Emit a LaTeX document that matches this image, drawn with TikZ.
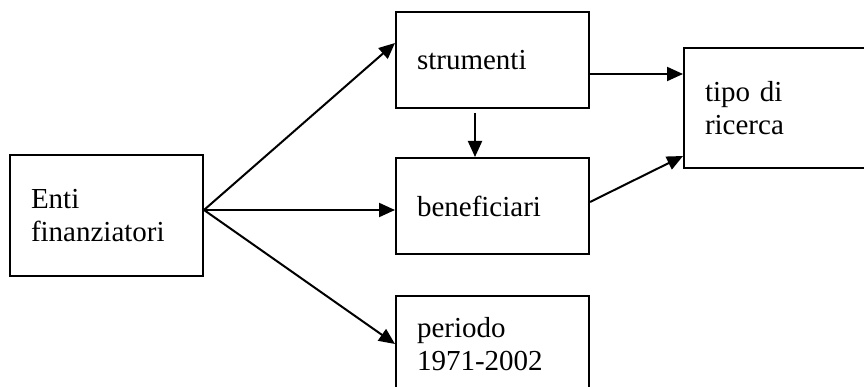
\documentclass[tikz,border=0pt]{standalone}
\usepackage{fontspec}
\setmainfont[Ligatures=CommonOff]{Liberation Serif}
\usetikzlibrary{arrows.meta,calc}

\begin{document}
\begin{tikzpicture}[x=1pt,y=-1pt,
    box/.style={draw, line width=2pt, minimum width=193pt, inner xsep=21pt, text width=151pt, align=left, font=\fontsize{29}{33.5}\selectfont},
    arr/.style={line width=2pt, -{Triangle[length=16pt,width=14pt]}}]
            % Enti e flussi
            \useasboundingbox (0,0) rectangle (864,387);
            \clip (0,0) rectangle (864,387);

            \node[box, minimum height=121pt] at (106.5,215.5) (enti) {Enti\\finanziatori};
            \node[box, minimum height=96pt] at (492.5,60) (strumenti) {strumenti};
            \node[box, minimum height=96pt] at (492.5,206) (beneficiari) {beneficiari};
            \node[box, minimum height=96pt] at (492.5,344) (periodo) {periodo\\1971-2002};
            \node[box, minimum height=120pt] at (780.5,108) (tipo) {tipo di\\ricerca};

            \coordinate (fork) at ([yshift=5.5pt]enti.east);

            \draw[arr] (fork) -- ([yshift=17pt]strumenti.west);
            \draw[arr] (fork) -- ([yshift=-4pt]beneficiari.west);
            \draw[arr] (fork) -- (periodo.west);

            \draw[arr] ([xshift=-17.5pt,yshift=-4pt]strumenti.south) -- ([xshift=-17.5pt]beneficiari.north);
            \draw[arr] ([yshift=-14pt]strumenti.east) -- ([yshift=34pt]tipo.west);
            \draw[arr] ([yshift=4pt]beneficiari.east) -- ([yshift=-48pt]tipo.west);
        \end{tikzpicture}
\end{document}
